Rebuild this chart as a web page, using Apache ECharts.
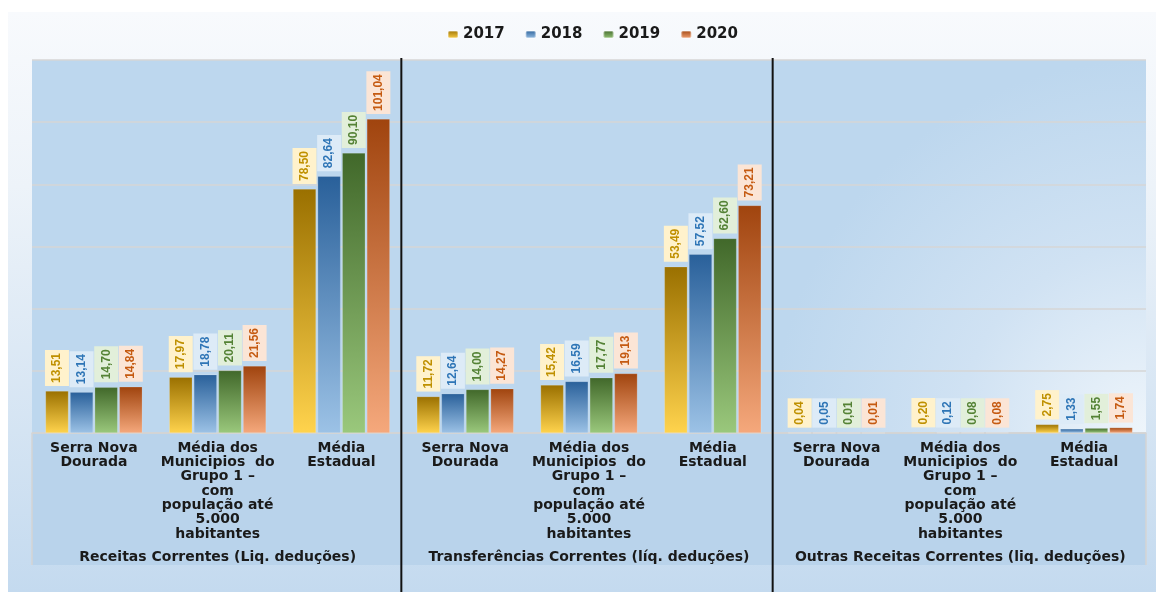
<!DOCTYPE html>
<html>
<head>
<meta charset="utf-8">
<script src="https://cdn.jsdelivr.net/npm/echarts@6/dist/echarts.min.js"></script>
<style>
html, body { margin: 0; padding: 0; background: #fff; }
#main { width: 1156px; height: 592px; }
</style>
</head>
<body>
<div id="main"></div>
<script>
// categorias do eixo (repetidas em cada grupo)
var categorias = [
	'Serra Nova\nDourada', 'Média dos\nMunicipios  do\nGrupo 1 –\ncom\npopulação até\n5.000\nhabitantes', 'Média\nEstadual',
	'Serra Nova\nDourada', 'Média dos\nMunicipios  do\nGrupo 1 –\ncom\npopulação até\n5.000\nhabitantes', 'Média\nEstadual',
	'Serra Nova\nDourada', 'Média dos\nMunicipios  do\nGrupo 1 –\ncom\npopulação até\n5.000\nhabitantes', 'Média\nEstadual'
];
var grupos = ['Receitas Correntes (Liq. deduções)', 'Transferências Correntes (líq. deduções)', 'Outras Receitas Correntes (liq. deduções)'];
var anos = ['2017', '2018', '2019', '2020'];
var v2017 = [13.51, 17.97, 78.50, 11.72, 15.42, 53.49, 0.04, 0.20, 2.75];
var v2018 = [13.14, 18.78, 82.64, 12.64, 16.59, 57.52, 0.05, 0.12, 1.33];
var v2019 = [14.70, 20.11, 90.10, 14.00, 17.77, 62.60, 0.01, 0.08, 1.55];
var v2020 = [14.84, 21.56, 101.04, 14.27, 19.13, 73.21, 0.01, 0.08, 1.74];
var yMax = 120, yStep = 20;

// cores: topo da barra, base da barra, texto do rotulo, fundo do rotulo
var cores = [
	['#9a7000', '#ffd34d', '#bf9000', '#fff2cc'],
	['#29609a', '#9cc2e6', '#2e75b6', '#ddebf7'],
	['#41682a', '#9ac87c', '#548235', '#e2efda'],
	['#a0440e', '#f5a87c', '#c55a11', '#fbe5d6']
];
var valores = [v2017, v2018, v2019, v2020];

function fmt(p) {
	return p.value.toFixed(2).replace('.', ',');
}

function serie(i) {
	var c = cores[i];
	return {
		name: anos[i],
		type: 'bar',
		data: valores[i],
		barWidth: 23,
		barGap: '7%',
		itemStyle: {
			color: new echarts.graphic.LinearGradient(0, 0, 0, 1, [
				{ offset: 0, color: c[0] },
				{ offset: 1, color: c[1] }
			]),
			borderColor: 'rgba(255,255,255,0.35)',
			borderWidth: 0.5
		},
		label: {
			show: true,
			position: 'top',
			distance: 5,
			rotate: 90,
			align: 'left',
			verticalAlign: 'middle',
			formatter: fmt,
			color: c[2],
			fontFamily: 'Liberation Sans',
			fontWeight: 'bold',
			fontSize: 12,
			lineHeight: 14,
			backgroundColor: c[3],
			padding: [5, 3]
		}
	};
}

var chart = echarts.init(document.getElementById('main'));
var option = {
	animation: false,
	legend: {
		top: 22,
		left: 442,
		itemWidth: 10,
		itemHeight: 7,
		itemGap: 20,
		textStyle: { fontFamily: 'DejaVu Sans', fontWeight: 'bold', fontSize: 15, color: '#1a1a1a' }
	},
	grid: {
		left: 32, right: 10, top: 60, bottom: 159,
		show: true,
		borderWidth: 0,
		backgroundColor: new echarts.graphic.RadialGradient(1, 1, 1.0, [
			{ offset: 0, color: '#eef5fb' },
			{ offset: 0.5, color: '#d0e2f3' },
			{ offset: 1, color: '#bdd7ee' }
		])
	},
	xAxis: [{
		type: 'category',
		data: categorias,
		axisLine: { lineStyle: { color: '#d4d4d4', width: 1.5 } },
		axisTick: { show: false },
		axisLabel: {
			interval: 0,
			margin: 8,
			fontFamily: 'DejaVu Sans',
			fontWeight: 'bold',
			fontSize: 14,
			lineHeight: 14.3,
			color: '#1a1a1a'
		}
	}, {
		type: 'category',
		data: grupos,
		position: 'bottom',
		offset: 117,
		axisLine: { show: false },
		axisTick: { show: false },
		axisLabel: {
			interval: 0,
			margin: 0,
			fontFamily: 'DejaVu Sans',
			fontWeight: 'bold',
			fontSize: 14,
			color: '#1a1a1a'
		}
	}],
	yAxis: {
		type: 'value',
		min: 0,
		max: yMax,
		interval: yStep,
		axisLabel: { show: false },
		axisLine: { show: false },
		axisTick: { show: false },
		splitLine: { lineStyle: { color: '#d6d6d6', width: 1.5 } }
	},
	series: [serie(0), serie(1), serie(2), serie(3)]
};
chart.setOption(option);

// linhas separadoras e caixa dos rotulos, a partir das escalas
var c0 = chart.convertToPixel({ xAxisIndex: 0 }, 0);
var c1 = chart.convertToPixel({ xAxisIndex: 0 }, 1);
var banda = c1 - c0;
var esq = c0 - banda / 2;
var dir = esq + banda * categorias.length;
var base = chart.convertToPixel({ yAxisIndex: 0 }, 0);
var topo = chart.convertToPixel({ yAxisIndex: 0 }, yMax);
var fundoRotulos = base + 132;

var graficos = [{
	type: 'rect', z: -10, silent: true,
	shape: { x: 8, y: 12, width: 1148, height: 580 },
	style: {
		fill: new echarts.graphic.LinearGradient(0, 0, 0, 1, [
			{ offset: 0, color: '#f8fafd' },
			{ offset: 0.3, color: '#edf3f9' },
			{ offset: 1, color: '#c4daef' }
		])
	}
}, {
	type: 'rect', z: -9, silent: true,
	shape: { x: esq, y: base, width: dir - esq, height: fundoRotulos - base },
	style: { fill: '#b9d3eb' }
}, {
	type: 'line', z: 5, silent: true,
	shape: { x1: esq, y1: base, x2: esq, y2: fundoRotulos },
	style: { stroke: '#d4d4d4', lineWidth: 1.5 }
}, {
	type: 'line', z: 5, silent: true,
	shape: { x1: dir, y1: base, x2: dir, y2: fundoRotulos },
	style: { stroke: '#d4d4d4', lineWidth: 1.5 }
}];
[3, 6].forEach(function(i) {
	var x = esq + banda * i - 2;
	graficos.push({
		type: 'line', z: 10, silent: true,
		shape: { x1: x, y1: topo - 2, x2: x, y2: 592 },
		style: { stroke: '#111', lineWidth: 2 }
	});
});
chart.setOption({ graphic: graficos });
</script>
</body>
</html>
